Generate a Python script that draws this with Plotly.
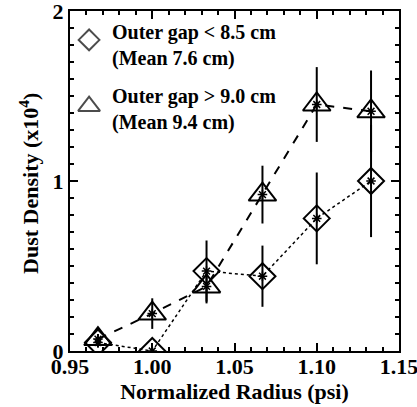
import plotly.graph_objects as go

# Data
radius = [0.967, 1.000, 1.033, 1.067, 1.100, 1.133]
density_small_gap = [0.05, 0.00, 0.47, 0.44, 0.78, 1.00]
err_small_gap = [0.03, 0.02, 0.18, 0.18, 0.27, 0.33]
density_large_gap = [0.07, 0.22, 0.38, 0.92, 1.45, 1.41]
err_large_gap = [0.03, 0.09, 0.10, 0.17, 0.22, 0.24]

legend_labels = ["Outer gap < 8.5 cm<br>(Mean 7.6 cm)",
                 "Outer gap > 9.0 cm<br>(Mean 9.4 cm)"]
x_ticks = [0.95, 1.00, 1.05, 1.10, 1.15]
x_ticklabels = ["0.95", "1.00", "1.05", "1.10", "1.15"]
y_ticks = [0, 1, 2]

FONT = "Liberation Serif"
fig = go.Figure()

def add_series(y, err, symbol, size, dash, lw):
    fig.add_trace(go.Scatter(
        x=radius, y=y, mode="lines+markers",
        line=dict(color="black", width=lw, dash=dash),
        marker=dict(symbol=symbol, size=size,
                    color="black", line=dict(width=2, color="black")),
        error_y=dict(type="data", array=err, visible=True, color="black",
                     thickness=2, width=0),
        showlegend=False))
    fig.add_trace(go.Scatter(
        x=radius, y=y, mode="markers",
        marker=dict(symbol="asterisk-open", size=8, color="black",
                    line=dict(width=1.5, color="black")),
        showlegend=False))

add_series(density_small_gap, err_small_gap, "diamond-open", 20, "dot", 1.5)
add_series(density_large_gap, err_large_gap, "triangle-up-open", 24, "dash", 2)

# Legend drawn inside the plot on an overlay axis
fig.add_trace(go.Scatter(
    x=[0.058, 0.058], y=[0.915, 0.72], xaxis="x2", yaxis="y2",
    mode="markers",
    marker=dict(symbol=["diamond-open", "triangle-up-open"], size=[16, 19],
                color="black", line=dict(width=2, color="black")),
    showlegend=False, hoverinfo="skip"))
for yy, txt in zip([0.898, 0.71], legend_labels):
    fig.add_annotation(x=0.122, y=yy, xref="paper", yref="paper",
                       text="<b>" + txt + "</b>", showarrow=False,
                       xanchor="left", yanchor="middle", align="left",
                       font=dict(family=FONT, size=20, color="black"))

# y-axis title
fig.add_annotation(x=-0.125, y=0.494, xref="paper", yref="paper",
                   text="<b>Dust Density (x10<sup>4</sup>)</b>", textangle=-90,
                   showarrow=False, xanchor="center", yanchor="middle",
                   font=dict(family=FONT, size=22, color="black"))

axis_common = dict(showline=True, linewidth=2, linecolor="black", mirror="ticks",
                   ticks="inside", tickcolor="black", tickwidth=2, showgrid=False,
                   zeroline=False, automargin=False, ticklabeloverflow="allow",
                   tickfont=dict(family=FONT, size=22, color="black"))
fig.update_layout(
    width=417, height=407,
    margin=dict(l=70, r=18, t=11, b=56),
    plot_bgcolor="white", paper_bgcolor="white",
    xaxis=dict(range=[0.95, 1.15], tickvals=x_ticks,
               ticktext=["<b>%s</b>" % t for t in x_ticklabels], ticklen=8,
               ticklabelstandoff=-5,
               minor=dict(ticks="inside", ticklen=4, dtick=0.01, tickcolor="black", tickwidth=1.5),
               title=dict(text="<b>Normalized Radius (psi)</b>", standoff=2,
                          font=dict(family=FONT, size=22, color="black")),
               **axis_common),
    yaxis=dict(range=[0, 2], tickvals=y_ticks,
               ticktext=["<b>%d</b>" % t for t in y_ticks], ticklen=8,
               minor=dict(ticks="inside", ticklen=4, dtick=0.1, tickcolor="black", tickwidth=1.5),
               **axis_common),
    xaxis2=dict(range=[0, 1], overlaying="x", visible=False, domain=[0, 1]),
    yaxis2=dict(range=[0, 1], overlaying="y", visible=False),
)

fig.write_html("out.html")
